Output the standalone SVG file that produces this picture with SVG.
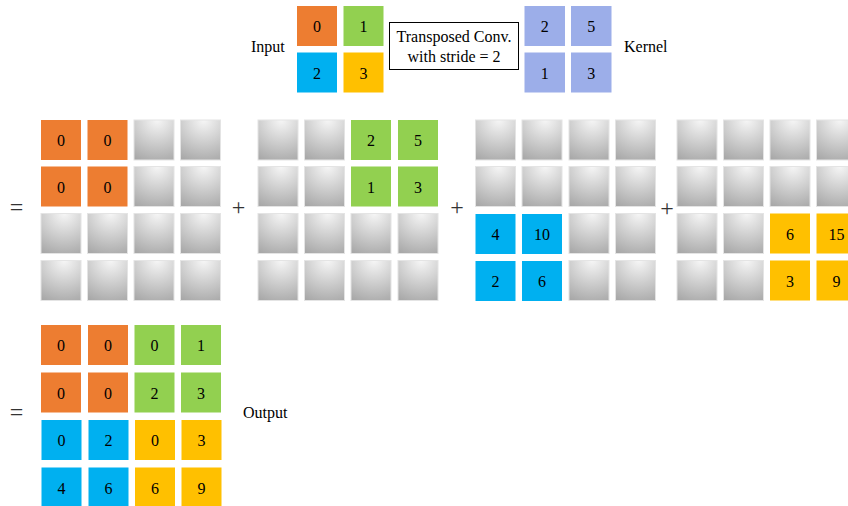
<svg xmlns="http://www.w3.org/2000/svg" width="848" height="506" viewBox="0 0 848 506">
<defs>
<radialGradient id="gg" cx="0.58" cy="0" r="1.1" fx="0.58" fy="0">
<stop offset="0" stop-color="#f6f6f6"/>
<stop offset="1" stop-color="#a8a8a8"/>
</radialGradient>
<style>
text{font-family:"Liberation Serif","Times New Roman",serif;font-size:16px;fill:#000}
.c{text-anchor:middle}
.s{font-size:24px;text-anchor:middle;fill:#333}
.gr{fill:url(#gg);stroke:#e4e4e4;stroke-width:1}
.o{fill:#ED7D31}
.g{fill:#92D050}
.b{fill:#00B0F0}
.y{fill:#FFC000}
.k{fill:#9CAEE9}
</style>
</defs>
<rect width="848" height="506" fill="#fff"/>

<g id="input">
<text x="251" y="52">Input</text>
<g id="in0"><rect class="o" x="297" y="6" width="40" height="40"/><text class="c" x="317" y="32">0</text></g>
<g id="in1"><rect class="g" x="343.5" y="6" width="40" height="40"/><text class="c" x="363.5" y="32">1</text></g>
<g id="in2"><rect class="b" x="297" y="52.5" width="40" height="40"/><text class="c" x="317" y="78.5">2</text></g>
<g id="in3"><rect class="y" x="343.5" y="52.5" width="40" height="40"/><text class="c" x="363.5" y="78.5">3</text></g>
</g>

<g id="op">
<rect x="389.5" y="22.5" width="129" height="47" fill="#fff" stroke="#000" stroke-width="1"/>
<text class="c" x="454" y="42">Transposed Conv.</text>
<text class="c" x="454" y="62">with stride = 2</text>
</g>

<g id="kernel">
<g id="k0"><rect class="k" x="524.5" y="6" width="40.5" height="40"/><text class="c" x="544.7" y="32">2</text></g>
<g id="k1"><rect class="k" x="571" y="6" width="40.5" height="40"/><text class="c" x="591.2" y="32">5</text></g>
<g id="k2"><rect class="k" x="524.5" y="52.5" width="40.5" height="40"/><text class="c" x="544.7" y="78.5">1</text></g>
<g id="k3"><rect class="k" x="571" y="52.5" width="40.5" height="40"/><text class="c" x="591.2" y="78.5">3</text></g>
<text x="624" y="52">Kernel</text>
</g>

<text class="s" x="16.5" y="215">=</text>
<text class="s" x="238.5" y="215">+</text>
<text class="s" x="457" y="215">+</text>
<text class="s" x="667" y="215.5">+</text>

<!-- Grid 1 -->
<g id="grid1">
<g id="g1c00"><rect class="o" x="41" y="120" width="40" height="40"/><text class="c" x="61" y="146">0</text></g>
<g id="g1c01"><rect class="o" x="87.5" y="120" width="40" height="40"/><text class="c" x="107.5" y="146">0</text></g>
<rect id="g1c02" class="gr" x="134" y="120" width="40" height="40"/>
<rect id="g1c03" class="gr" x="180.5" y="120" width="40" height="40"/>
<g id="g1c10"><rect class="o" x="41" y="166.5" width="40" height="40"/><text class="c" x="61" y="192.5">0</text></g>
<g id="g1c11"><rect class="o" x="87.5" y="166.5" width="40" height="40"/><text class="c" x="107.5" y="192.5">0</text></g>
<rect id="g1c12" class="gr" x="134" y="166.5" width="40" height="40"/>
<rect id="g1c13" class="gr" x="180.5" y="166.5" width="40" height="40"/>
<rect id="g1c20" class="gr" x="41" y="213.5" width="40" height="40"/>
<rect id="g1c21" class="gr" x="87.5" y="213.5" width="40" height="40"/>
<rect id="g1c22" class="gr" x="134" y="213.5" width="40" height="40"/>
<rect id="g1c23" class="gr" x="180.5" y="213.5" width="40" height="40"/>
<rect id="g1c30" class="gr" x="41" y="260.5" width="40" height="40"/>
<rect id="g1c31" class="gr" x="87.5" y="260.5" width="40" height="40"/>
<rect id="g1c32" class="gr" x="134" y="260.5" width="40" height="40"/>
<rect id="g1c33" class="gr" x="180.5" y="260.5" width="40" height="40"/>
</g>

<!-- Grid 2 -->
<g id="grid2">
<rect id="g2c00" class="gr" x="258" y="120" width="40" height="40"/>
<rect id="g2c01" class="gr" x="304.5" y="120" width="40" height="40"/>
<g id="g2c02"><rect class="g" x="351" y="120" width="40" height="40"/><text class="c" x="371" y="146">2</text></g>
<g id="g2c03"><rect class="g" x="398" y="120" width="40" height="40"/><text class="c" x="418" y="146">5</text></g>
<rect id="g2c10" class="gr" x="258" y="166.5" width="40" height="40"/>
<rect id="g2c11" class="gr" x="304.5" y="166.5" width="40" height="40"/>
<g id="g2c12"><rect class="g" x="351" y="166.5" width="40" height="40"/><text class="c" x="371" y="192.5">1</text></g>
<g id="g2c13"><rect class="g" x="398" y="166.5" width="40" height="40"/><text class="c" x="418" y="192.5">3</text></g>
<rect id="g2c20" class="gr" x="258" y="213.5" width="40" height="40"/>
<rect id="g2c21" class="gr" x="304.5" y="213.5" width="40" height="40"/>
<rect id="g2c22" class="gr" x="351" y="213.5" width="40" height="40"/>
<rect id="g2c23" class="gr" x="398" y="213.5" width="40" height="40"/>
<rect id="g2c30" class="gr" x="258" y="260.5" width="40" height="40"/>
<rect id="g2c31" class="gr" x="304.5" y="260.5" width="40" height="40"/>
<rect id="g2c32" class="gr" x="351" y="260.5" width="40" height="40"/>
<rect id="g2c33" class="gr" x="398" y="260.5" width="40" height="40"/>
</g>

<!-- Grid 3 -->
<g id="grid3">
<rect id="g3c00" class="gr" x="475.5" y="120" width="40" height="40"/>
<rect id="g3c01" class="gr" x="522" y="120" width="40" height="40"/>
<rect id="g3c02" class="gr" x="569" y="120" width="40" height="40"/>
<rect id="g3c03" class="gr" x="615.5" y="120" width="40" height="40"/>
<rect id="g3c10" class="gr" x="475.5" y="166.5" width="40" height="40"/>
<rect id="g3c11" class="gr" x="522" y="166.5" width="40" height="40"/>
<rect id="g3c12" class="gr" x="569" y="166.5" width="40" height="40"/>
<rect id="g3c13" class="gr" x="615.5" y="166.5" width="40" height="40"/>
<g id="g3c20"><rect class="b" x="475.5" y="214" width="40" height="40"/><text class="c" x="495.5" y="240">4</text></g>
<g id="g3c21"><rect class="b" x="522" y="214" width="40" height="40"/><text class="c" x="542" y="240">10</text></g>
<rect id="g3c22" class="gr" x="569" y="213.5" width="40" height="40"/>
<rect id="g3c23" class="gr" x="615.5" y="213.5" width="40" height="40"/>
<g id="g3c30"><rect class="b" x="475.5" y="261" width="40" height="40"/><text class="c" x="495.5" y="287">2</text></g>
<g id="g3c31"><rect class="b" x="522" y="261" width="40" height="40"/><text class="c" x="542" y="287">6</text></g>
<rect id="g3c32" class="gr" x="569" y="260.5" width="40" height="40"/>
<rect id="g3c33" class="gr" x="615.5" y="260.5" width="40" height="40"/>
</g>

<!-- Grid 4 -->
<g id="grid4">
<rect id="g4c00" class="gr" x="677" y="120" width="40" height="40"/>
<rect id="g4c01" class="gr" x="723.5" y="120" width="40" height="40"/>
<rect id="g4c02" class="gr" x="770" y="120" width="40" height="40"/>
<rect id="g4c03" class="gr" x="816.5" y="120" width="40" height="40"/>
<rect id="g4c10" class="gr" x="677" y="166.5" width="40" height="40"/>
<rect id="g4c11" class="gr" x="723.5" y="166.5" width="40" height="40"/>
<rect id="g4c12" class="gr" x="770" y="166.5" width="40" height="40"/>
<rect id="g4c13" class="gr" x="816.5" y="166.5" width="40" height="40"/>
<rect id="g4c20" class="gr" x="677" y="213.5" width="40" height="40"/>
<rect id="g4c21" class="gr" x="723.5" y="213.5" width="40" height="40"/>
<g id="g4c22"><rect class="y" x="770" y="213.5" width="40" height="40"/><text class="c" x="790" y="239.5">6</text></g>
<g id="g4c23"><rect class="y" x="816.5" y="213.5" width="40" height="40"/><text class="c" x="836.5" y="239.5">15</text></g>
<rect id="g4c30" class="gr" x="677" y="260.5" width="40" height="40"/>
<rect id="g4c31" class="gr" x="723.5" y="260.5" width="40" height="40"/>
<g id="g4c32"><rect class="y" x="770" y="260.5" width="40" height="40"/><text class="c" x="790" y="286.5">3</text></g>
<g id="g4c33"><rect class="y" x="816.5" y="260.5" width="40" height="40"/><text class="c" x="836.5" y="286.5">9</text></g>
</g>

<!-- Output -->
<text class="s" x="16.5" y="420">=</text>
<g id="output">
<g id="oc00"><rect class="o" x="41" y="325" width="40" height="40"/><text class="c" x="61" y="351">0</text></g>
<g id="oc01"><rect class="o" x="88" y="325" width="40" height="40"/><text class="c" x="108" y="351">0</text></g>
<g id="oc02"><rect class="g" x="134.5" y="325" width="40" height="40"/><text class="c" x="154.5" y="351">0</text></g>
<g id="oc03"><rect class="g" x="181" y="325" width="40" height="40"/><text class="c" x="201" y="351">1</text></g>
<g id="oc10"><rect class="o" x="41" y="372.5" width="40" height="40"/><text class="c" x="61" y="398.5">0</text></g>
<g id="oc11"><rect class="o" x="88" y="372.5" width="40" height="40"/><text class="c" x="108" y="398.5">0</text></g>
<g id="oc12"><rect class="g" x="134.5" y="372.5" width="40" height="40"/><text class="c" x="154.5" y="398.5">2</text></g>
<g id="oc13"><rect class="g" x="181" y="372.5" width="40" height="40"/><text class="c" x="201" y="398.5">3</text></g>
<g id="oc20"><rect class="b" x="41.5" y="420" width="40" height="40"/><text class="c" x="61.5" y="446">0</text></g>
<g id="oc21"><rect class="b" x="88.5" y="420" width="40" height="40"/><text class="c" x="108.5" y="446">2</text></g>
<g id="oc22"><rect class="y" x="135" y="420" width="40" height="40"/><text class="c" x="155" y="446">0</text></g>
<g id="oc23"><rect class="y" x="181.5" y="420" width="40" height="40"/><text class="c" x="201.5" y="446">3</text></g>
<g id="oc30"><rect class="b" x="41.5" y="467.5" width="40" height="40"/><text class="c" x="61.5" y="493.5">4</text></g>
<g id="oc31"><rect class="b" x="88.5" y="467.5" width="40" height="40"/><text class="c" x="108.5" y="493.5">6</text></g>
<g id="oc32"><rect class="y" x="135" y="467.5" width="40" height="40"/><text class="c" x="155" y="493.5">6</text></g>
<g id="oc33"><rect class="y" x="181.5" y="467.5" width="40" height="40"/><text class="c" x="201.5" y="493.5">9</text></g>
<text x="243" y="418">Output</text>
</g>
</svg>
